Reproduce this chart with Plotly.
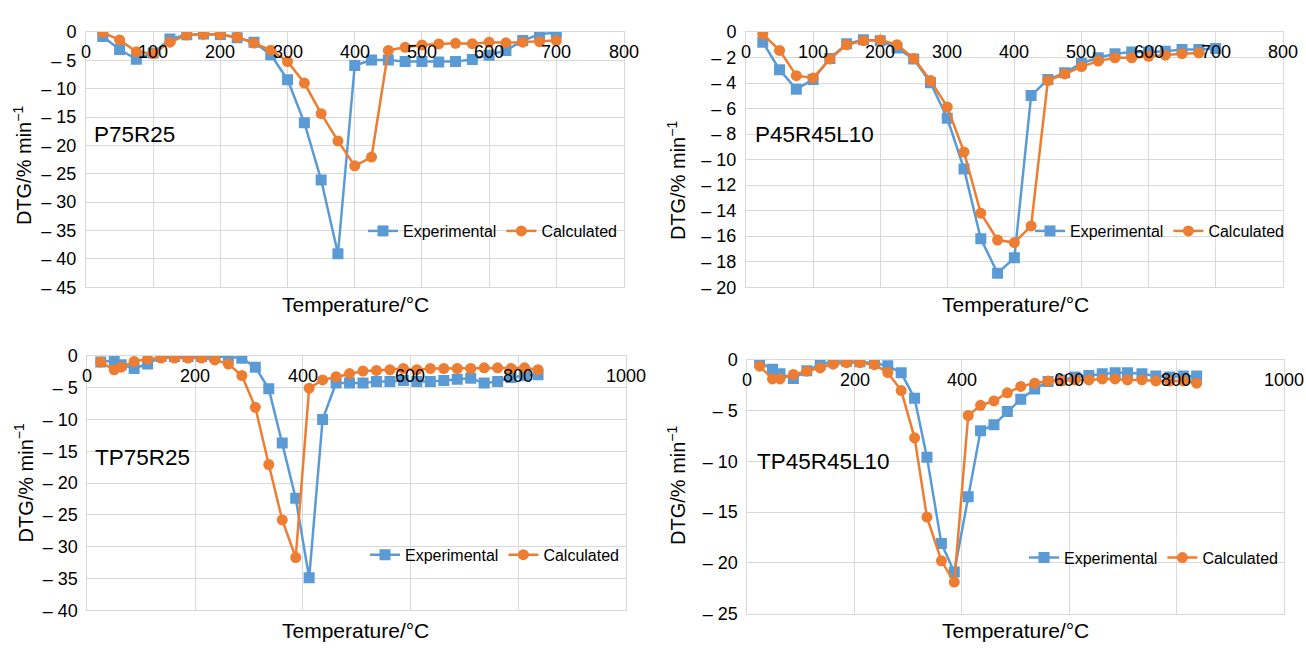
import plotly.graph_objects as go

W, H = 1306, 652
BLUE = "#5B9BD5"
ORANGE = "#ED7D31"
GRID = "#d9d9d9"
FONT = "Liberation Sans, Arial, Helvetica, sans-serif"

# ---------------- data ----------------
p1_x = [25, 50, 75, 100, 125, 150, 175, 200, 225, 250, 275, 300, 325, 350, 375, 400,
        425, 450, 475, 500, 525, 550, 575, 600, 625, 650, 675, 700]
p1_exp = [-0.8, -3.1, -4.8, -3.7, -1.25, -0.5, -0.35, -0.45, -1.0, -1.8, -4.0, -8.4, -16.0,
          -26.1, -39.1, -5.9, -4.95, -4.95, -5.2, -5.2, -5.3, -5.2, -4.85, -4.1, -3.25, -1.5,
          -0.4, -0.1]
p1_calc = [-0.1, -1.4, -3.5, -3.8, -1.8, -0.55, -0.4, -0.45, -0.9, -1.95, -3.2, -5.2, -9.0,
           -14.4, -19.2, -23.6, -22.05, -3.25, -2.7, -2.3, -2.1, -2.0, -2.05, -1.8, -1.9, -1.8,
           -1.7, -1.5]

p2_x_exp = [25, 50, 75, 100, 125, 150, 175, 200, 225, 250, 275, 300, 325, 350, 375, 400,
            425, 450, 475, 500, 525, 550, 575, 600, 625, 650, 675, 700]
p2_exp = [-0.8, -2.96, -4.48, -3.72, -2.07, -0.93, -0.6, -0.68, -1.26, -2.12, -3.97, -6.76,
          -10.73, -16.2, -18.9, -17.7, -4.98, -3.72, -3.2, -2.45, -2.02, -1.7, -1.57, -1.57,
          -1.5, -1.37, -1.37, -1.3]
p2_x_calc = [25, 50, 75, 100, 125, 150, 175, 200, 225, 250, 275, 300, 325, 350, 375, 400,
             425, 450, 475, 500, 525, 550, 575, 600, 625, 650, 675]
p2_calc = [-0.17, -1.44, -3.42, -3.6, -2.12, -1.0, -0.68, -0.63, -0.99, -2.07, -3.8, -5.87,
           -9.41, -14.2, -16.3, -16.5, -15.2, -3.8, -3.29, -2.71, -2.28, -2.02, -2.02, -1.9,
           -1.82, -1.7, -1.64]

p3_x = [25, 50, 63, 87, 112, 137, 162, 187, 212, 237, 262, 287, 312, 337, 362, 387, 412,
        437, 462, 487, 512, 537, 562, 587, 612, 637, 662, 687, 712, 737, 762, 787, 812, 837]
p3_exp = [-1.0, -0.7, -1.4, -2.0, -1.3, -0.1, -0.1, -0.1, -0.1, -0.1, -0.15, -0.4, -1.8,
          -5.2, -13.7, -22.4, -34.9, -10.0, -4.3, -4.3, -4.3, -4.05, -4.05, -3.9, -4.05, -4.05,
          -3.9, -3.7, -3.55, -4.3, -4.05, -3.4, -3.1, -3.0]
p3_calc = [-1.0, -2.2, -1.8, -0.9, -0.5, -0.35, -0.35, -0.35, -0.35, -0.65, -1.3, -3.1, -8.1,
           -17.1, -25.8, -31.7, -5.1, -3.8, -3.3, -2.8, -2.4, -2.3, -2.2, -2.0, -2.2, -2.0,
           -2.0, -2.0, -2.0, -1.9, -1.9, -2.0, -1.9, -2.2]

p4_x = [23, 47, 61, 86, 111, 136, 160, 185, 210, 237, 262, 287, 312, 335, 362, 386, 412,
        435, 460, 485, 510, 536, 561, 586, 611, 637, 662, 686, 709, 736, 762, 788, 813, 838]
p4_exp = [-0.25, -0.95, -1.4, -1.85, -1.1, -0.45, -0.2, -0.15, -0.2, -0.35, -0.6, -1.3, -3.8,
          -9.6, -18.1, -20.9, -13.5, -7.0, -6.4, -5.1, -3.9, -2.9, -2.16, -2.0, -1.7, -1.55,
          -1.4, -1.3, -1.3, -1.4, -1.6, -1.7, -1.6, -1.6]
p4_calc = [-0.65, -1.9, -1.9, -1.46, -1.14, -0.82, -0.45, -0.3, -0.3, -0.5, -1.27, -3.05,
           -7.7, -15.5, -19.8, -21.9, -5.5, -4.5, -4.07, -3.27, -2.64, -2.32, -2.1, -2.1, -2.0,
           -2.0, -1.9, -1.9, -2.0, -2.0, -2.1, -2.1, -2.1, -2.32]

p1_xticks = [0, 100, 200, 300, 400, 500, 600, 700, 800]
p1_yticks = [0, -5, -10, -15, -20, -25, -30, -35, -40, -45]
p2_yticks = [0, -2, -4, -6, -8, -10, -12, -14, -16, -18, -20]
p3_xticks = [0, 200, 400, 600, 800, 1000]
p3_yticks = [0, -5, -10, -15, -20, -25, -30, -35, -40]
p4_yticks = [0, -5, -10, -15, -20, -25]

sample_names = ["P75R25", "P45R45L10", "TP75R25", "TP45R45L10"]
x_title = "Temperature/°C"
y_title = "DTG/% min<sup>\u22121</sup>"
series_names = ["Experimental", "Calculated"]

# ---------------- layout (pixel boxes of plot areas) ----------------
panels = [
    dict(xe=p1_x, ye=p1_exp, xc=p1_x, yc=p1_calc, xticks=p1_xticks, yticks=p1_yticks,
         box=(86, 623.5, 22.7, 286), label=(92, 128), ylab=(22, 160),
         leg=(363, 228), xtitle=(355, 304)),
    dict(xe=p2_x_exp, ye=p2_exp, xc=p2_x_calc, yc=p2_calc, xticks=p1_xticks, yticks=p2_yticks,
         box=(746, 1282.7, 22.7, 286), label=(753, 128), ylab=(676.5, 176),
         leg=(1030, 228), xtitle=(1015, 304)),
    dict(xe=p3_x, ye=p3_exp, xc=p3_x, yc=p3_calc, xticks=p3_xticks, yticks=p3_yticks,
         box=(87.3, 625.8, 356.7, 619.3), label=(93, 462), ylab=(23.5, 488),
         leg=(365, 562), xtitle=(356, 640)),
    dict(xe=p4_x, ye=p4_exp, xc=p4_x, yc=p4_calc, xticks=p3_xticks, yticks=p4_yticks,
         box=(747.3, 1283.5, 360.7, 622.7), label=(755, 466), ylab=(677, 490),
         leg=(1024, 565), xtitle=(1015, 640)),
]


def tick_text(v):
    return "0" if v == 0 else "\u2013 " + str(abs(v))


fig = go.Figure()
layout = dict(
    width=W, height=H, margin=dict(l=0, r=0, t=0, b=0),
    paper_bgcolor="white", plot_bgcolor="white",
    font=dict(family=FONT, color="black"),
    annotations=[], showlegend=True,
)

for i, p in enumerate(panels, start=1):
    sfx = "" if i == 1 else str(i)
    legname = "legend" if i == 1 else f"legend{i}"
    x0, x1, y0, y1 = p["box"]
    fig.add_trace(go.Scatter(
        x=p["xe"], y=p["ye"], name=series_names[0], mode="lines+markers",
        line=dict(color=BLUE, width=2.5), marker=dict(symbol="square", size=11, color=BLUE),
        xaxis="x" + sfx, yaxis="y" + sfx, legend=legname))
    fig.add_trace(go.Scatter(
        x=p["xc"], y=p["yc"], name=series_names[1], mode="lines+markers",
        line=dict(color=ORANGE, width=2.5), marker=dict(symbol="circle", size=11, color=ORANGE),
        xaxis="x" + sfx, yaxis="y" + sfx, legend=legname))

    xmax = p["xticks"][-1]
    ymin = p["yticks"][-1]
    layout["xaxis" + sfx] = dict(
        domain=[x0 / W, x1 / W], anchor="y" + sfx, range=[0, xmax],
        side="top", showticklabels=False, tickvals=p["xticks"],
        showgrid=True, gridcolor=GRID, gridwidth=1, zeroline=False,
        showline=True, mirror=True, linecolor=GRID, linewidth=1, ticks="")
    layout["yaxis" + sfx] = dict(
        domain=[1 - y1 / H, 1 - y0 / H], anchor="x" + sfx, range=[ymin, 0],
        tickvals=p["yticks"], ticktext=[tick_text(v) for v in p["yticks"]],
        showgrid=True, gridcolor=GRID, gridwidth=1, zeroline=False,
        showline=True, mirror=True, linecolor=GRID, linewidth=1, ticks="",
        ticklabelstandoff=5,
        tickfont=dict(size=18, family=FONT, color="black"))
    layout[legname] = dict(
        x=p["leg"][0] / W, y=1 - p["leg"][1] / H, xanchor="left", yanchor="middle",
        orientation="h", bgcolor="rgba(0,0,0,0)", borderwidth=0,
        font=dict(size=16, family=FONT, color="black"), itemwidth=30, tracegroupgap=0)
    # x tick labels sit just below the zero line (top edge), centred on each tick
    for v in p["xticks"]:
        layout["annotations"].append(dict(
            text=str(v), x=v, xref="x" + sfx, y=1 - (y0 + 20.5) / H, yref="paper",
            xanchor="center", yanchor="middle", showarrow=False,
            font=dict(size=18, family=FONT, color="black")))
    layout["annotations"] += [
        dict(text=sample_names[i - 1], x=p["label"][0] / W, y=1 - p["label"][1] / H,
             xref="paper", yref="paper", xanchor="left", yanchor="middle", showarrow=False,
             font=dict(size=22.5, family=FONT, color="black")),
        dict(text=x_title, x=p["xtitle"][0] / W, y=1 - p["xtitle"][1] / H,
             xref="paper", yref="paper", xanchor="center", yanchor="middle", showarrow=False,
             font=dict(size=21, family=FONT, color="black")),
        dict(text=y_title, x=p["ylab"][0] / W, y=1 - p["ylab"][1] / H, textangle=-90,
             xref="paper", yref="paper", xanchor="center", yanchor="middle", showarrow=False,
             font=dict(size=20, family=FONT, color="black")),
    ]

fig.update_layout(**layout)
fig.write_html("out.html")
